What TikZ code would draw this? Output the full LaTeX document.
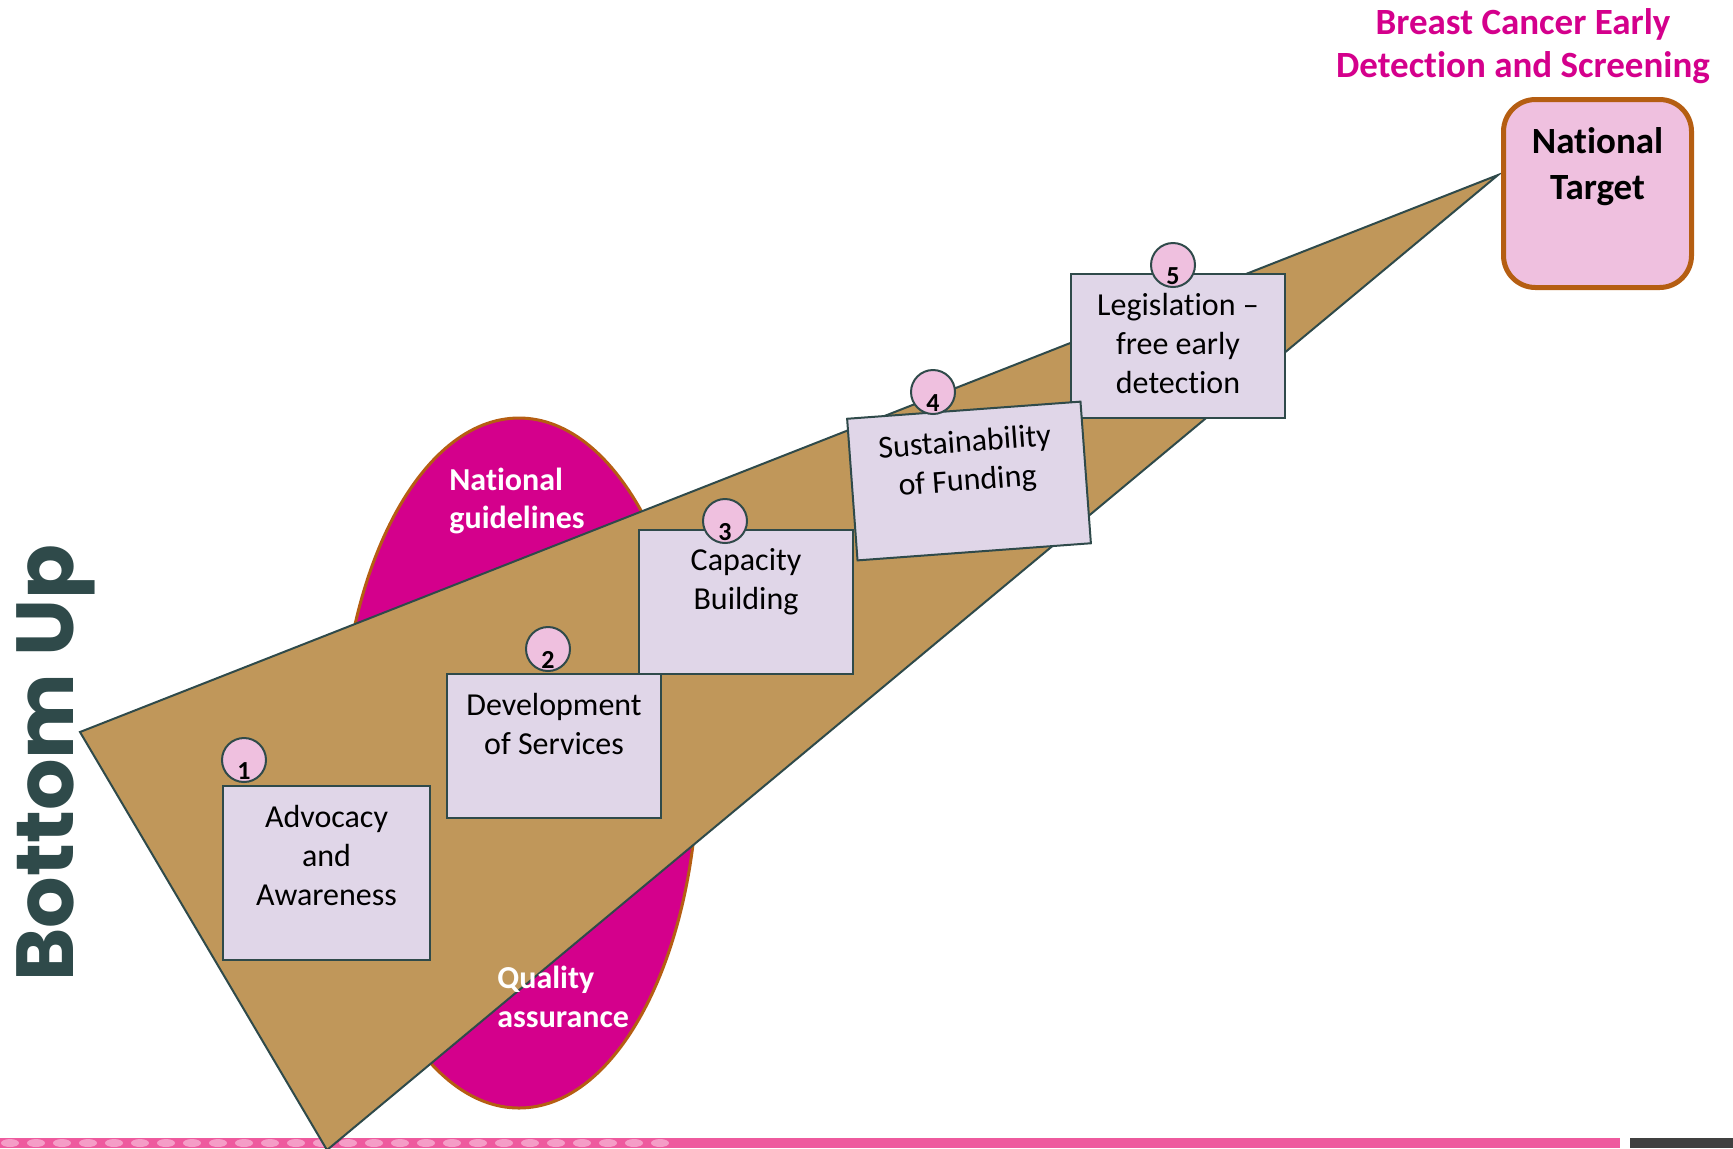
\documentclass[tikz,border=0pt]{standalone}
\usepackage{fontspec}
\setmainfont{Carlito}[Ligatures=NoCommon]
\newfontfamily\gothicfont{Poppins}
\usepackage{xcolor}
\usepackage{tikz}
\usetikzlibrary{positioning}

\definecolor{slate}{HTML}{2F4A4A}
\definecolor{wedgebrown}{HTML}{C0975A}
\definecolor{lavender}{HTML}{E0D6E8}
\definecolor{rosepink}{HTML}{EFC0DF}
\definecolor{deepmagenta}{HTML}{D4008C}
\definecolor{rust}{HTML}{B55E12}
\definecolor{bandpink}{HTML}{EE5A9E}
\definecolor{bandspot}{HTML}{F59DC7}
\definecolor{bandgrey}{HTML}{404040}

\tikzset{
  stepbox/.style={rectangle, draw=slate, line width=1pt, fill=lavender, minimum width=107pt, minimum height=72pt},
  steptext/.style={align=center, inner sep=0pt, font=\fontsize{16pt}{19.4pt}\selectfont},
  numdot/.style={circle, draw=slate, line width=1pt, fill=rosepink, minimum size=22pt, inner sep=0pt},
  numtext/.style={inner sep=0pt, yshift=-5.5pt, font=\bfseries\fontsize{13pt}{13pt}\selectfont},
  whitetext/.style={align=left, anchor=west, inner sep=0pt, text=white, font=\bfseries\fontsize{16pt}{19.4pt}\selectfont}
}

\begin{document}
\begin{tikzpicture}[x=0.5pt, y=-0.5pt]
            \useasboundingbox (0,0) rectangle (1733,1148);

            \fill[bandpink] (0,1138) rectangle (1620,1148);
            \foreach \i in {0,...,25}
                \fill[bandspot] (\i*26+10,1143) ellipse (9 and 4);
            \fill[bandgrey] (1630,1138) rectangle (1733,1148);

            \draw[rust, line width=1.5pt, fill=deepmagenta] (519,763) ellipse (179 and 345);
            \draw[slate, line width=1pt, fill=wedgebrown] (80,732) -- (327,1150) -- (1498,175) -- cycle;

            \node[whitetext] (guide) at (449,501) {National\\guidelines};
            \node[whitetext] (quality) at (497,997) {Quality\\assurance};

            \node[stepbox, minimum width=103.5pt, minimum height=87pt] (b1) at (326.5,873) {};
            \node[stepbox] (b2) at (554,746) {};
            \node[stepbox] (b3) at (746,601.5) {};
            \node[stepbox] (b5) at (1178,346) {};
            \node[stepbox, minimum width=117pt, minimum height=71pt, rotate=4.2] (b4) at (969,481) {};

            \node[steptext, below=10pt of b1.north] (t1) {Advocacy\\and\\Awareness};
            \node[steptext, below=10pt of b2.north] (t2) {Development\\of Services};
            \node[steptext, below=10pt of b3.north] (t3) {Capacity\\Building};
            \node[steptext, rotate=4.2, below=10pt of b4.north] (t4) {Sustainability\\of Funding};
            \node[steptext, below=10pt of b5.north] (t5) {Legislation --\\free early\\detection};

            \node[numdot, label={[numtext]center:1}] (n1) at (244,760) {};
            \node[numdot, label={[numtext]center:2}] (n2) at (548,649) {};
            \node[numdot, label={[numtext]center:3}] (n3) at (725,521) {};
            \node[numdot, label={[numtext]center:4}] (n4) at (933,392) {};
            \node[numdot, label={[numtext]center:5}] (n5) at (1173,265) {};

            \node[rectangle, rounded corners=16pt, draw=rust, line width=2.5pt, fill=rosepink, minimum size=94pt] (target) at (1597.5,193.5) {};
            \node[align=center, inner sep=0pt, below=15pt of target.north, font=\bfseries\fontsize{18.5pt}{23pt}\selectfont] (ttext) {National\\Target};

            \node[align=center, text=deepmagenta, font=\bfseries\fontsize{18.5pt}{21.5pt}\selectfont] (title) at (1523,46) {Breast Cancer Early\\Detection and Screening};
            \node[rotate=90, text=slate, font=\gothicfont\bfseries\fontsize{40.5pt}{40.5pt}\selectfont] (bottomup) at (56,763) {Bottom Up};
        \end{tikzpicture}
\end{document}
